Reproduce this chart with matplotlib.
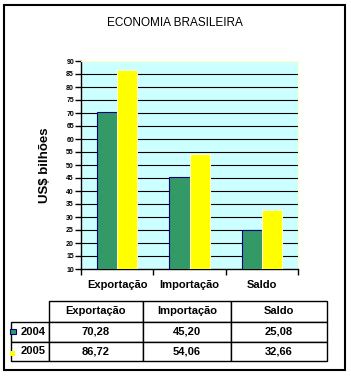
import matplotlib
matplotlib.use('Agg')
import matplotlib.pyplot as plt
from matplotlib.patches import Rectangle
import numpy as np

categories = ['Exportação', 'Importação', 'Saldo']
years = ['2004', '2005']
values_2004 = [70.28, 45.20, 25.08]
values_2005 = [86.72, 54.06, 32.66]
table_2004 = ['70,28', '45,20', '25,08']
table_2005 = ['86,72', '54,06', '32,66']
yticks = list(range(10, 95, 5))

W, H = 351, 377
fig = plt.figure(figsize=(W / 100, H / 100), dpi=100)
plt.rcParams['font.family'] = ['Liberation Sans', 'DejaVu Sans']

def fx(px):
    return px / W

def fy(py):
    return 1 - py / H

# outer frame
fig.patches.append(Rectangle((fx(4), fy(370)), fx(345) - fx(4), fy(5) - fy(370),
                             transform=fig.transFigure, fill=False,
                             edgecolor='black', linewidth=1.5))

fig.text(fx(175), fy(23), 'ECONOMIA BRASILEIRA', ha='center', va='center',
         fontsize=8.5)
fig.text(fx(45), fy(165), 'US$ bilhões', ha='center', va='center',
         rotation=90, fontsize=9.5, fontweight='bold')

ax = fig.add_axes([fx(81), fy(269), fx(298) - fx(81), fy(61) - fy(269)])
ax.set_facecolor('#CCFFFF')
x = np.arange(len(categories))
w = 0.28
ax.bar(x - w / 2, values_2004, w, color='#339966', edgecolor='#000080',
       linewidth=0.8, zorder=3)
ax.bar(x + w / 2, values_2005, w, color='#FFFF00', edgecolor='#FFFFCC',
       linewidth=0.8, zorder=3)
ax.set_xlim(-0.5, 2.5)
ax.set_ylim(10, 90)
ax.set_yticks(yticks)
ax.set_yticklabels([str(t) for t in yticks], fontsize=5, fontweight='bold')
for t in yticks[1:-1]:
    ax.axhline(t, color='black', linewidth=0.8, zorder=1)
ax.set_xticks(x)
ax.set_xticklabels(categories, fontsize=8, fontweight='bold')
ax.set_xticks([-0.5, 0.5, 1.5, 2.5], minor=True)
ax.tick_params(axis='x', which='major', length=0, pad=8)
ax.tick_params(axis='x', which='minor', length=4, width=1, direction='out')
ax.tick_params(axis='y', length=4, width=1, direction='out', pad=1)
ax.spines['top'].set_color('#FFFFCC')
ax.spines['right'].set_color('#FFFFCC')
ax.spines['left'].set_linewidth(1)
ax.spines['bottom'].set_linewidth(1)

# data table
tx0, tx1, ty0, ty1 = 7, 327, 301, 361
gx0 = 49
tax = fig.add_axes([fx(tx0), fy(ty1), fx(tx1) - fx(tx0), fy(ty0) - fy(ty1)])
tax.axis('off')
tw = tx1 - tx0
th = ty1 - ty0
tbl = tax.table(cellText=[table_2004, table_2005], rowLabels=years,
                colLabels=categories, cellLoc='center', rowLoc='left',
                bbox=[(gx0 - tx0) / tw, 0, (tx1 - gx0) / tw, 1])
tbl.auto_set_font_size(False)
col_w = [94 / tw, 88 / tw, 96 / tw]
lab_w = (gx0 - tx0) / tw
row_h = [21 / th, 20 / th, 19 / th]
for (r, c), cell in tbl.get_celld().items():
    cell.set_linewidth(1)
    cell.set_text_props(fontsize=8, fontweight='bold')
    cell.set_height(row_h[r])
    if c == -1:
        cell.set_width(lab_w)
        cell.PAD = 0.26
    else:
        cell.set_width(col_w[c])

# legend keys in the row labels
tax.add_patch(Rectangle((2.5 / tw, 1 - 33 / th), 6.5 / tw, 5.5 / th,
                        transform=tax.transAxes, facecolor='#339966',
                        edgecolor='#000080', linewidth=0.8, zorder=5,
                        clip_on=False))
tax.add_patch(Rectangle((3 / tw, 1 - 55 / th), 5 / tw, 5 / th,
                        transform=tax.transAxes, facecolor='#FFFF00',
                        edgecolor='none', zorder=5, clip_on=False))

fig.savefig('out.png', dpi=100)
